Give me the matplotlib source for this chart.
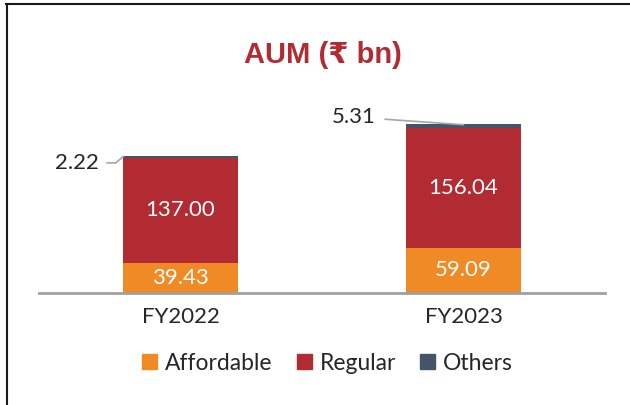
import matplotlib
matplotlib.use("Agg")
import matplotlib.pyplot as plt
from matplotlib.lines import Line2D
from matplotlib.patches import Patch

# data
years = ["FY2022", "FY2023"]
affordable = [39.43, 59.09]
regular = [137.00, 156.04]
others = [2.22, 5.31]

c_aff = "#F08A25"
c_reg = "#B22A32"
c_oth = "#44546A"
txt = "#262626"
num_font = ["Lato", "DejaVu Sans"]

fig = plt.figure(figsize=(6.3, 4.05), dpi=100)
ax = fig.add_axes([39 / 630, 1 - 293 / 405, 566 / 630, 191.25 / 405])

x = list(range(len(years)))
w = 0.403
ax.bar(x, affordable, width=w, color=c_aff)
ax.bar(x, regular, width=w, bottom=affordable, color=c_reg)
bot2 = [a + r for a, r in zip(affordable, regular)]
ax.bar(x, others, width=w, bottom=bot2, color=c_oth)

ax.set_xlim(-0.5, 1.5)
ax.set_ylim(0, 250)

# labels inside bars
for i in x:
    ax.text(i, affordable[i] / 2, f"{affordable[i]:.2f}", ha="center", va="center",
            color="white", fontsize=16, family=num_font)
    ax.text(i, affordable[i] + regular[i] / 2, f"{regular[i]:.2f}", ha="center",
            va="center", color="white", fontsize=16, family=num_font)

# others with leader lines
tops = [b + o for b, o in zip(bot2, others)]
ax.annotate(f"{others[0]:.2f}", xy=(-w / 2, tops[0]), xytext=(-0.367, 170),
            ha="center", va="center", fontsize=16, color=txt, family=num_font,
            arrowprops=dict(arrowstyle="-", color="#A6A6A6", lw=1.2, shrinkA=4, shrinkB=0,
                            connectionstyle="angle,angleA=0,angleB=40,rad=0"))
ax.annotate(f"{others[1]:.2f}", xy=(1.0, tops[1] - 0.5), xytext=(0.611, 230),
            ha="center", va="center", fontsize=16, color=txt, family=num_font,
            arrowprops=dict(arrowstyle="-", color="#A6A6A6", lw=1.2, shrinkA=5, shrinkB=0))

for s in ["top", "right", "left"]:
    ax.spines[s].set_visible(False)
ax.spines["bottom"].set_color("#A0A0A0")
ax.spines["bottom"].set_linewidth(2)
ax.set_yticks([])
ax.set_xticks(x)
ax.set_xticklabels(years, fontsize=16, color=txt, family=num_font)
ax.tick_params(axis="x", length=0, pad=10)

fig.text(0.513, 1 - 55 / 405, "AUM (₹ bn)", ha="center", va="center", fontsize=21,
         fontweight="bold", color=c_reg, family=["Liberation Sans", "DejaVu Sans"])

handles = [Patch(color=c_aff, label="Affordable"),
           Patch(color=c_reg, label="Regular"),
           Patch(color=c_oth, label="Others")]
fig.legend(handles=handles, loc="center", bbox_to_anchor=(0.52, 1 - 363 / 405), ncol=3,
           frameon=False, handlelength=0.65, handleheight=0.65, handletextpad=0.35,
           columnspacing=1.05, prop={"family": num_font, "size": 16.5}, labelcolor=txt)

# frame lines top and left
fig.add_artist(Line2D([6 / 630, 1], [1 - 4 / 405, 1 - 4 / 405], color="#1a1a1a", lw=1.5))
fig.add_artist(Line2D([7 / 630, 7 / 630], [0, 1 - 4 / 405], color="#1a1a1a", lw=1.5))

fig.savefig("out.png", dpi=100)
